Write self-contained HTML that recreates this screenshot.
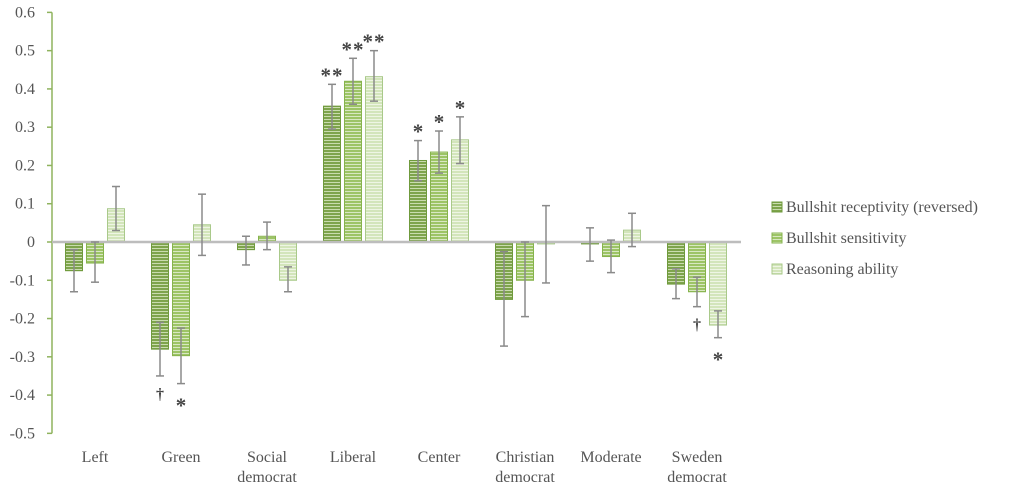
<!DOCTYPE html>
<html><head><meta charset="utf-8">
<style>
html,body{margin:0;padding:0;background:#fff;}
svg{display:block;font-family:"Liberation Serif",serif;}
</style></head>
<body>
<svg id="chart" width="1024" height="486" viewBox="0 0 1024 486" xmlns="http://www.w3.org/2000/svg">
<defs>
<pattern id="p0" width="6" height="3" patternUnits="userSpaceOnUse"><rect width="6" height="3" fill="#7ea44c"/><rect y="2" width="6" height="1" fill="#c9dcae"/></pattern>
<pattern id="p1" width="6" height="3" patternUnits="userSpaceOnUse"><rect width="6" height="3" fill="#9dc466"/><rect y="2" width="6" height="1" fill="#d8e8c2"/></pattern>
<pattern id="p2" width="6" height="3" patternUnits="userSpaceOnUse"><rect width="6" height="3" fill="#d3e5bb"/><rect y="2" width="6" height="1" fill="#eef5e4"/></pattern>
</defs>
<g id="axes"></g>
<g id="bars"></g>
<g id="legend"></g>
</svg>
<script>
const categories = [["Left"],["Green"],["Social","democrat"],["Liberal"],["Center"],["Christian","democrat"],["Moderate"],["Sweden","democrat"]];
const seriesNames = ["Bullshit receptivity (reversed)","Bullshit sensitivity","Reasoning ability"];
const receptivity = [-0.075,-0.28,-0.02,0.355,0.213,-0.15,-0.005,-0.11];
const sensitivity = [-0.055,-0.297,0.015,0.42,0.235,-0.1,-0.038,-0.13];
const reasoning = [0.087,0.045,-0.1,0.432,0.267,-0.005,0.031,-0.217];
const receptivityLo = [-0.13,-0.35,-0.06,0.295,0.16,-0.272,-0.05,-0.148];
const receptivityHi = [-0.02,-0.21,0.015,0.412,0.265,-0.025,0.037,-0.07];
const sensitivityLo = [-0.105,-0.37,-0.02,0.36,0.18,-0.195,-0.08,-0.169];
const sensitivityHi = [0,-0.225,0.052,0.48,0.29,0,0.005,-0.092];
const reasoningLo = [0.03,-0.035,-0.13,0.368,0.205,-0.107,-0.012,-0.25];
const reasoningHi = [0.145,0.125,-0.065,0.5,0.327,0.095,0.075,-0.18];
const receptivityMarks = ["","†","","**","*","","",""];
const sensitivityMarks = ["","*","","**","*","","","†"];
const reasoningMarks = ["","","","**","*","","","*"];
const yTicks = [0.6,0.5,0.4,0.3,0.2,0.1,0,-0.1,-0.2,-0.3,-0.4,-0.5];

const NS="http://www.w3.org/2000/svg";
const X0=52, GW=86, BW=17, GAP=4;
const y=v=>242-v*382.7;
const gx=i=>X0+GW*i+GW/2;
function mk(tag,attrs,parent,text){const e=document.createElementNS(NS,tag);for(const k in attrs)e.setAttribute(k,attrs[k]);if(text!==undefined)e.textContent=text;parent.appendChild(e);return e;}
const axes=document.getElementById('axes'), bars=document.getElementById('bars'), legend=document.getElementById('legend');

yTicks.forEach(t=>{
  const tk=mk('line',{x1:47,x2:52,y1:y(t),y2:y(t),stroke:'#8fb35e','stroke-width':1.5},axes);
  
  
  const lb=mk('text',{x:35,y:y(t)+5,'text-anchor':'end','font-size':16,fill:'#555'},axes,t===0?'0':t.toFixed(1));
  
  
});
const ya=mk('line',{x1:52,x2:52,y1:y(0.6),y2:y(-0.5),stroke:'#8fb35e','stroke-width':1.5},axes);



categories.forEach((c,i)=>{
  c.forEach((ln,j)=>{
    const t=mk('text',{x:gx(i),y:462+j*20,'text-anchor':'middle','font-size':16,fill:'#555'},axes,ln);
    
    
  });
});

const vals=[receptivity,sensitivity,reasoning], los=[receptivityLo,sensitivityLo,reasoningLo], his=[receptivityHi,sensitivityHi,reasoningHi], marks=[receptivityMarks,sensitivityMarks,reasoningMarks];
const strokes=['#6f9a3c','#86b34c','#a9c98a'];
vals.forEach((arr,s)=>{
  arr.forEach((v,i)=>{
    const cx=gx(i)+(s-1)*(BW+GAP);
    const top=Math.min(y(v),y(0)), h=Math.abs(y(v)-y(0));
    const r=mk('rect',{x:cx-BW/2,y:top,width:BW,height:Math.max(h,1),fill:'url(#p'+s+')',stroke:strokes[s],'stroke-width':1},bars);
    
    
  });
});
const zl=mk('line',{x1:52,x2:741,y1:y(0),y2:y(0),stroke:'#bdbdbd','stroke-width':2.5},bars);


vals.forEach((arr,s)=>{
  arr.forEach((v,i)=>{
    const cx=gx(i)+(s-1)*(BW+GAP);
    const lo=los[s][i], hi=his[s][i];
    const g=mk('g',{stroke:'#8a8a8a','stroke-width':1.5},bars);
    
    
    mk('line',{x1:cx,x2:cx,y1:y(hi),y2:y(lo)},g);
    mk('line',{x1:cx-4,x2:cx+4,y1:y(hi),y2:y(hi)},g);
    mk('line',{x1:cx-4,x2:cx+4,y1:y(lo),y2:y(lo)},g);
    const m=marks[s][i];
    if(m){
      let ty;
      if(v>0) ty=y(hi)-2;
      else ty=y(lo)+(m==='†'?23:29);
      const t=mk('text',{x:cx,y:ty,'text-anchor':'middle','font-size':m==='†'?16:21,'font-weight':'bold',fill:'#444','letter-spacing':m.length>1?1:0},bars,m);
      
      
    }
  });
});

seriesNames.forEach((n,s)=>{
  const yy=212+s*31;
  const g=mk('g',{},legend);
  
  
  mk('rect',{x:772,y:yy-10,width:10,height:10,fill:'url(#p'+s+')',stroke:strokes[s]},g);
  mk('text',{x:786,y:yy,'font-size':16,fill:'#555'},g,n);
});
</script>
</body></html>
